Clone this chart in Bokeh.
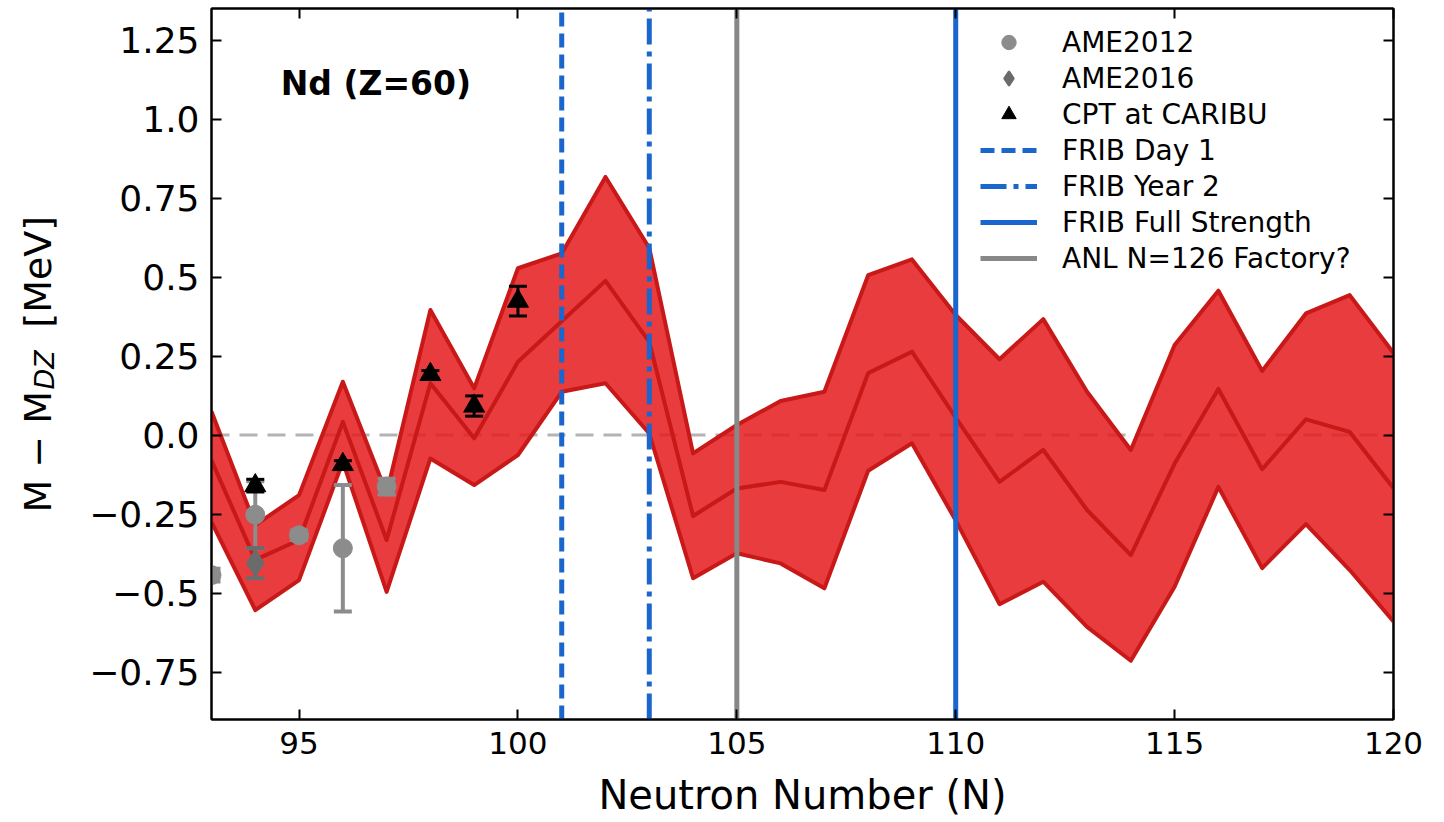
import numpy as np
from bokeh.plotting import figure
from bokeh.layouts import row
from bokeh.models import (Range1d, LinearAxis, FixedTicker, CustomJSTickFormatter,
                          Legend, LegendItem, Label, Span)
from bokeh.core.properties import value
from bokeh.embed import file_html
from bokeh.resources import INLINE

# Mass differences to the Duflo-Zuker model for Nd isotopes (MeV)
neutron_number = list(range(93, 121))
dz_upper = [0.075, -0.285, -0.19, 0.169, -0.185, 0.396, 0.148, 0.528, 0.575, 0.817,
            0.592, -0.058, 0.032, 0.108, 0.137, 0.506, 0.556, 0.38, 0.24, 0.367,
            0.137, -0.047, 0.285, 0.457, 0.203, 0.385, 0.443, 0.26]
dz_central = [-0.08, -0.395, -0.332, 0.042, -0.332, 0.164, -0.01, 0.232, 0.36, 0.488,
              0.295, -0.256, -0.169, -0.148, -0.174, 0.196, 0.264, 0.055, -0.148, -0.047,
              -0.237, -0.38, -0.09, 0.146, -0.108, 0.05, 0.01, -0.168]
dz_lower = [-0.275, -0.554, -0.459, -0.084, -0.496, -0.074, -0.158, -0.063, 0.137, 0.164,
            0.005, -0.453, -0.374, -0.406, -0.485, -0.113, -0.026, -0.27, -0.535, -0.464,
            -0.607, -0.714, -0.48, -0.164, -0.421, -0.282, -0.427, -0.59]

# Measured masses
ame2012_n = [93, 94, 95, 96, 97]
ame2012_dm = [-0.443, -0.252, -0.317, -0.358, -0.163]
ame2012_err = [0.02, 0.106, 0.015, 0.2, 0.025]

ame2016_n = [94]
ame2016_dm = [-0.405]
ame2016_err = [0.048]

cpt_n = [94, 96, 98, 99, 100]
cpt_dm = [-0.16, -0.093, 0.192, 0.092, 0.424]
cpt_err = [0.02, 0.012, 0.012, 0.032, 0.047]

# Reach of the facilities (neutron number)
frib_day1 = [101]
frib_year2 = [103]
frib_full = [110]
anl_n126 = [105]

x_limits = (93, 120)
y_limits = (-0.9, 1.35)
x_ticks = [95, 100, 105, 110, 115, 120]
y_ticks = [-0.75, -0.5, -0.25, 0.0, 0.25, 0.5, 0.75, 1.0, 1.25]
y_tick_labels = ["\u22120.75", "\u22120.5", "\u22120.25", "0.0", "0.25", "0.5", "0.75", "1.0", "1.25"]
zero_level = 0.0

FONT = "DejaVu Sans"
BLUE = "#1a66cc"
TITLE_W = 70   # width of the strip holding the rotated y title
H = 822

y_range = Range1d(*y_limits)
p = figure(width=1444 - TITLE_W, height=H, output_backend="svg", toolbar_location=None,
           x_range=Range1d(*x_limits), y_range=y_range,
           min_border_left=211 - TITLE_W, min_border_right=51, min_border_top=8,
           min_border_bottom=103,
           background_fill_color="white", border_fill_color="white")
p.xgrid.visible = False
p.ygrid.visible = False
p.outline_line_color = "black"
p.outline_line_width = 2

bottom_axis = p.below[0]
left_axis = p.left[0]

# zero reference line, beneath the band
p.add_layout(Span(location=zero_level, dimension="width", line_color="#b3b3b3",
                  line_width=3, line_dash="18 10", level="underlay"))

# model band
p.varea(x=neutron_number, y1=dz_lower, y2=dz_upper, fill_color="#e41a1c", fill_alpha=0.85)
for ys in (dz_upper, dz_central, dz_lower):
    p.line(neutron_number, ys, line_color="#c81818", line_width=4, line_join="round")

# facility reach lines
y0, y1 = y_limits
r_day1 = p.segment(x0=frib_day1, x1=frib_day1, y0=[y0], y1=[y1], line_color=BLUE,
                   line_width=5, line_dash="14 7")
r_year2 = p.segment(x0=frib_year2, x1=frib_year2, y0=[y0], y1=[y1], line_color=BLUE,
                    line_width=5, line_dash="26 7 5 7")
r_anl = p.segment(x0=anl_n126, x1=anl_n126, y0=[y0], y1=[y1], line_color="#888888",
                  line_width=5)
r_full = p.segment(x0=frib_full, x1=frib_full, y0=[y0], y1=[y1], line_color=BLUE,
                   line_width=5)


def error_bars(n, dm, err, color, width):
    lo = [m - e for m, e in zip(dm, err)]
    hi = [m + e for m, e in zip(dm, err)]
    p.segment(x0=n, x1=n, y0=lo, y1=hi, line_color=color, line_width=width)
    p.scatter(n + n, lo + hi, marker="dash", size=18, line_color=color, line_width=width)


error_bars(ame2012_n, ame2012_dm, ame2012_err, "#8c8c8c", 4)
r_ame12 = p.scatter(ame2012_n, ame2012_dm, marker="circle", size=19,
                    fill_color="#8c8c8c", line_color="#8c8c8c")
error_bars(ame2016_n, ame2016_dm, ame2016_err, "#6b6b6b", 4)
r_ame16 = p.scatter(ame2016_n, ame2016_dm, marker="diamond", size=25,
                    fill_color="#6b6b6b", line_color="#6b6b6b", line_width=2)
error_bars(cpt_n, cpt_dm, cpt_err, "black", 3)
r_cpt = p.scatter(cpt_n, cpt_dm, marker="triangle", size=21,
                  fill_color="black", line_color="black")

# axes
bottom_axis.ticker = FixedTicker(ticks=x_ticks, minor_ticks=[])
left_axis.ticker = FixedTicker(ticks=y_ticks, minor_ticks=[])
left_axis.formatter = CustomJSTickFormatter(
    args=dict(vals=y_ticks, labs=y_tick_labels),
    code="const i = vals.findIndex(v => Math.abs(v - tick) < 1e-9); return i >= 0 ? labs[i] : String(tick);")

blank = CustomJSTickFormatter(code="return '';")
top_axis = LinearAxis(ticker=FixedTicker(ticks=x_ticks, minor_ticks=[]),
                      formatter=blank, major_label_standoff=0)
right_axis = LinearAxis(ticker=FixedTicker(ticks=y_ticks, minor_ticks=[]),
                        formatter=blank, major_label_standoff=0)
p.add_layout(top_axis, "above")
p.add_layout(right_axis, "right")

for ax in (bottom_axis, left_axis, top_axis, right_axis):
    ax.axis_line_color = "black"
    ax.axis_line_width = 2
    ax.major_tick_line_color = "black"
    ax.major_tick_line_width = 2
    ax.major_tick_in = 10
    ax.major_tick_out = 0
    ax.minor_tick_line_color = None
    ax.major_label_text_font = FONT
    ax.major_label_text_color = "black"

bottom_axis.major_label_text_font_size = "31px"
bottom_axis.major_label_standoff = 12
left_axis.major_label_text_font_size = "36px"
left_axis.major_label_standoff = 12

bottom_axis.axis_label = "Neutron Number (N)"
bottom_axis.axis_label_text_font = FONT
bottom_axis.axis_label_text_font_size = "40px"
bottom_axis.axis_label_text_font_style = "normal"
bottom_axis.axis_label_text_color = "black"
bottom_axis.axis_label_standoff = 15

p.add_layout(Label(x=94.58, y=1.112, text="Nd (Z=60)", text_font=FONT,
                   text_font_size="33px", text_font_style="bold", text_color="black",
                   text_baseline="alphabetic"))

legend = Legend(items=[
    LegendItem(label="AME2012", renderers=[r_ame12]),
    LegendItem(label="AME2016", renderers=[r_ame16]),
    LegendItem(label="CPT at CARIBU", renderers=[r_cpt]),
    LegendItem(label="FRIB Day 1", renderers=[r_day1]),
    LegendItem(label="FRIB Year 2", renderers=[r_year2]),
    LegendItem(label="FRIB Full Strength", renderers=[r_full]),
    LegendItem(label="ANL N=126 Factory?", renderers=[r_anl]),
], location=(763, 437), padding=6, spacing=0, glyph_width=57, glyph_height=36,
    label_height=36, label_standoff=25, label_text_font=FONT, label_text_font_size="28px",
    label_text_color="black", border_line_alpha=0, background_fill_alpha=0, margin=0)
p.add_layout(legend)

# rotated y title in its own strip (sharing the vertical range), DZ as a subscript
t = figure(width=TITLE_W, height=H, output_backend="svg", toolbar_location=None,
           x_range=Range1d(0, TITLE_W), y_range=y_range,
           x_axis_type=None, y_axis_type=None, min_border=0,
           background_fill_color="white", border_fill_color="white")
t.outline_line_color = None
t.xgrid.visible = False
t.ygrid.visible = False
title_style = dict(angle=np.pi / 2, text_align="left", text_baseline="middle",
                   text_font=value(FONT), text_color="black")
t.text(x=[37], y=[-0.245], text=["M \u2212 M"], text_font_size="38px", **title_style)
t.text(x=[44], y=[0.144], text=["DZ"], text_font_size="27px",
       text_font_style="italic", **title_style)
t.text(x=[37], y=[0.34], text=["[MeV]"], text_font_size="38px", **title_style)

layout = row(t, p, spacing=0)
open("out.html", "w").write(file_html(layout, INLINE))
